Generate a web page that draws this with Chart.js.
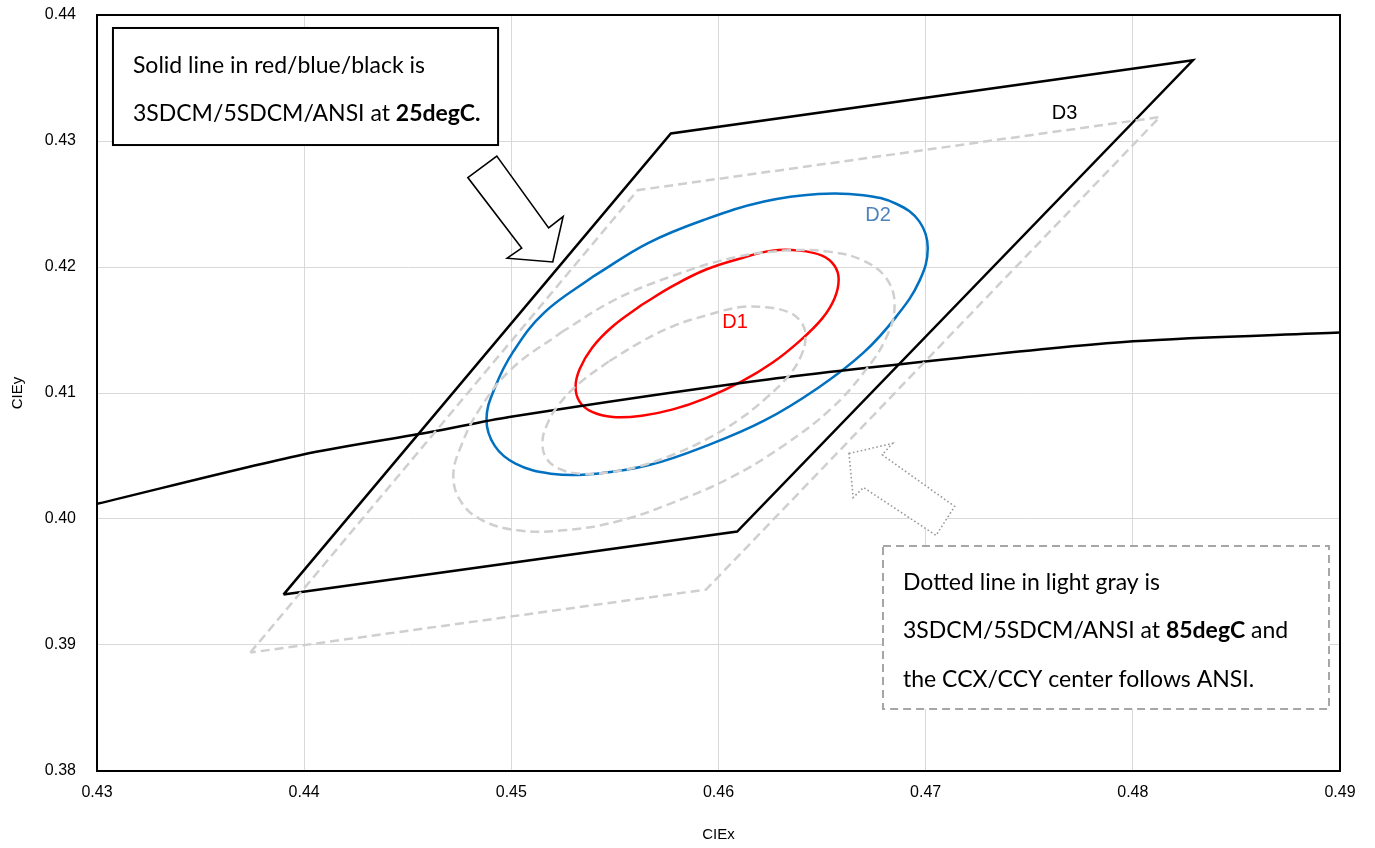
<!DOCTYPE html>
<html>
<head>
<meta charset="utf-8">
<script src="https://cdn.jsdelivr.net/npm/chart.js@4.4.1/dist/chart.umd.min.js"></script>
<style>
  html, body { margin: 0; padding: 0; background: #ffffff; }
  #wrap { width: 1375px; height: 848px; position: relative; }
</style>
</head>
<body>
<div id="wrap"><canvas id="c"></canvas></div>
<script>
// ---- axis ticks ----
const xTickValues = [0.43, 0.44, 0.45, 0.46, 0.47, 0.48, 0.49];
const yTickValues = [0.38, 0.39, 0.40, 0.41, 0.42, 0.43, 0.44];

// ---- Planckian locus (black) ----
const locusX = [0.4300, 0.4399, 0.4461, 0.4499, 0.4620, 0.4717, 0.4800, 0.4900];
const locusY = [0.4012, 0.4051, 0.4069, 0.4081, 0.4110, 0.4128, 0.4141, 0.4148];

// ---- ANSI quadrangle (D3) at 25degC, solid black ----
const ansi25X = [0.4390, 0.4577, 0.4829, 0.4609, 0.4390];
const ansi25Y = [0.3940, 0.4306, 0.4364, 0.3990, 0.3940];

// ---- ANSI quadrangle at 85degC, dashed gray ----
const ansi85X = [0.4374, 0.4561, 0.4813, 0.4594, 0.4374];
const ansi85Y = [0.3894, 0.4261, 0.4319, 0.3944, 0.3894];

// ---- 3SDCM ellipse (D1) at 25degC, red ----
const sdcm3X25 = [0.4563,0.4549,0.4539,0.4533,0.4531,0.4533,0.4539,0.4549,0.4563,0.4578,0.4594,0.4611,0.4626,0.4639,0.4650,0.4656,0.4658,0.4656,0.4650,0.4639,0.4626,0.4611,0.4594,0.4578,0.4563];
const sdcm3Y25 = [0.4170,0.4153,0.4136,0.4119,0.4105,0.4093,0.4085,0.4081,0.4082,0.4087,0.4096,0.4109,0.4124,0.4141,0.4159,0.4175,0.4190,0.4201,0.4209,0.4213,0.4213,0.4207,0.4198,0.4185,0.4170];

// ---- 5SDCM ellipse (D2) at 25degC, blue ----
const sdcm5X25 = [0.4540,0.4566,0.4594,0.4622,0.4648,0.4670,0.4686,0.4697,0.4701,0.4697,0.4686,0.4670,0.4648,0.4622,0.4594,0.4567,0.4541,0.4519,0.4502,0.4492,0.4488,0.4492,0.4501,0.4516,0.4540];
const sdcm5Y25 = [0.4193,0.4219,0.4238,0.4252,0.4258,0.4257,0.4250,0.4236,0.4215,0.4189,0.4161,0.4132,0.4104,0.4078,0.4058,0.4043,0.4036,0.4036,0.4044,0.4058,0.4079,0.4104,0.4133,0.4164,0.4193];

// ---- 3SDCM ellipse at 85degC, dashed gray ----
const sdcm3X85 = [0.4547,0.4533,0.4523,0.4517,0.4515,0.4517,0.4523,0.4533,0.4547,0.4562,0.4578,0.4595,0.4610,0.4623,0.4634,0.4640,0.4642,0.4640,0.4634,0.4623,0.4610,0.4595,0.4578,0.4562,0.4547];
const sdcm3Y85 = [0.4125,0.4108,0.4091,0.4074,0.4060,0.4048,0.4040,0.4036,0.4037,0.4042,0.4051,0.4064,0.4079,0.4096,0.4114,0.4130,0.4145,0.4156,0.4164,0.4168,0.4168,0.4162,0.4153,0.4140,0.4125];

// ---- 5SDCM ellipse at 85degC, dashed gray ----
const sdcm5X85 = [0.4524,0.4550,0.4578,0.4606,0.4632,0.4654,0.4670,0.4681,0.4685,0.4681,0.4670,0.4654,0.4632,0.4606,0.4578,0.4551,0.4525,0.4503,0.4486,0.4476,0.4472,0.4476,0.4485,0.4500,0.4524];
const sdcm5Y85 = [0.4148,0.4174,0.4193,0.4207,0.4213,0.4212,0.4205,0.4191,0.4170,0.4144,0.4116,0.4087,0.4059,0.4033,0.4013,0.3998,0.3991,0.3991,0.3999,0.4013,0.4034,0.4059,0.4088,0.4119,0.4148];

// ---- region labels ----
const regionLabels = ['D1', 'D2', 'D3'];
const regionLabelX = [0.4608, 0.4677, 0.4767];
const regionLabelY = [0.4156, 0.4241, 0.4322];
const regionLabelColors = ['#ff0000', '#4f81bd', '#000000'];

// ---- annotation arrows (data coordinates) ----
const arrow25X = [0.4493, 0.4518, 0.4525, 0.4520, 0.4498, 0.4505, 0.4479];
const arrow25Y = [0.4288, 0.4231, 0.4240, 0.4204, 0.4207, 0.4215, 0.4271];
const arrow85X = [0.4663, 0.4684, 0.4679, 0.4714, 0.4705, 0.4670, 0.4665];
const arrow85Y = [0.4052, 0.4060, 0.4051, 0.4010, 0.3987, 0.4025, 0.4017];

// ---- note boxes (data coordinates of corners) ----
const note25Box = [0.43077, 0.43897, 0.44936, 0.42968];
const note25Lines = [
  [{t: 'Solid line in red/blue/black is', b: false}],
  [{t: '3SDCM/5SDCM/ANSI at ', b: false}, {t: '25degC.', b: true}]
];
const note85Box = [0.46794, 0.39786, 0.48947, 0.38492];
const note85Lines = [
  [{t: 'Dotted line in light gray is', b: false}],
  [{t: '3SDCM/5SDCM/ANSI at ', b: false}, {t: '85degC', b: true}, {t: ' and', b: false}],
  [{t: 'the CCX/CCY center follows ANSI.', b: false}]
];

function pts(xs, ys) { return xs.map((x, i) => ({x: x, y: ys[i]})); }

const GRAY = '#cfcfcf';
const DASH = [9, 5];

const overlayPlugin = {
  id: 'overlay',
  afterDatasetsDraw(chart) {
    const ctx = chart.ctx;
    const xs = chart.scales.x, ys = chart.scales.y;
    const ca = chart.chartArea;
    const px = v => xs.getPixelForValue(v);
    const py = v => ys.getPixelForValue(v);
    ctx.save();
    // plot frame
    ctx.strokeStyle = '#000000';
    ctx.lineWidth = 2;
    ctx.setLineDash([]);
    ctx.strokeRect(ca.left, ca.top, ca.right - ca.left, ca.bottom - ca.top);

    // region labels
    ctx.font = '20px "Liberation Sans", Arial, sans-serif';
    ctx.textAlign = 'center';
    ctx.textBaseline = 'middle';
    regionLabels.forEach((l, i) => {
      ctx.fillStyle = regionLabelColors[i];
      ctx.fillText(l, px(regionLabelX[i]), py(regionLabelY[i]));
    });

    // arrows
    function poly(X, Y) {
      ctx.beginPath();
      X.forEach((x, i) => { if (i === 0) ctx.moveTo(px(x), py(Y[i])); else ctx.lineTo(px(x), py(Y[i])); });
      ctx.closePath();
    }
    poly(arrow25X, arrow25Y);
    ctx.fillStyle = '#ffffff'; ctx.fill();
    ctx.strokeStyle = '#000000'; ctx.lineWidth = 1.6; ctx.setLineDash([]); ctx.stroke();
    poly(arrow85X, arrow85Y);
    ctx.fillStyle = '#ffffff'; ctx.fill();
    ctx.strokeStyle = '#9a9a9a'; ctx.lineWidth = 1.6; ctx.setLineDash([1.6, 2.4]); ctx.stroke();

    // note boxes
    function box(b, lines, dashed, lineGap, firstBase) {
      const x0 = px(b[0]), y0 = py(b[1]), x1 = px(b[2]), y1 = py(b[3]);
      ctx.setLineDash([]);
      ctx.fillStyle = '#ffffff';
      ctx.fillRect(x0, y0, x1 - x0, y1 - y0);
      if (dashed) { ctx.strokeStyle = '#a6a6a6'; ctx.setLineDash([8, 5]); ctx.lineWidth = 2; }
      else { ctx.strokeStyle = '#000000'; ctx.setLineDash([]); ctx.lineWidth = 2; }
      ctx.strokeRect(x0, y0, x1 - x0, y1 - y0);
      ctx.setLineDash([]);
      ctx.fillStyle = '#000000';
      ctx.textAlign = 'left';
      ctx.textBaseline = 'alphabetic';
      lines.forEach((segs, li) => {
        let x = x0 + 20;
        const y = y0 + firstBase + li * lineGap;
        segs.forEach(s => {
          ctx.font = (s.b ? 'bold ' : '') + '23px Lato, "Open Sans", sans-serif';
          ctx.fillText(s.t, x, y);
          x += ctx.measureText(s.t).width;
        });
      });
    }
    box(note25Box, note25Lines, false, 48, 45);
    box(note85Box, note85Lines, true, 48.5, 44);
    ctx.restore();
  }
};

const lineDs = (label, data, color, dashed, tension, width) => ({
  label: label,
  data: data,
  showLine: true,
  borderColor: color,
  backgroundColor: color,
  borderWidth: width || 2.5,
  borderDash: dashed ? DASH : [],
  pointRadius: 0,
  pointHoverRadius: 0,
  tension: tension,
  fill: false
});

new Chart(document.getElementById('c'), {
  type: 'scatter',
  data: {
    datasets: [
      lineDs('ANSI 85degC', pts(ansi85X, ansi85Y), GRAY, true, 0),
      lineDs('5SDCM 85degC', pts(sdcm5X85, sdcm5Y85), GRAY, true, 0.4),
      lineDs('3SDCM 85degC', pts(sdcm3X85, sdcm3Y85), GRAY, true, 0.4),
      lineDs('ANSI 25degC', pts(ansi25X, ansi25Y), '#000000', false, 0),
      lineDs('Locus', pts(locusX, locusY), '#000000', false, 0.3),
      lineDs('5SDCM 25degC', pts(sdcm5X25, sdcm5Y25), '#0070c0', false, 0.4),
      lineDs('3SDCM 25degC', pts(sdcm3X25, sdcm3Y25), '#ff0000', false, 0.4)
    ]
  },
  options: {
    responsive: true,
    maintainAspectRatio: false,
    animation: false,
    events: [],
    layout: { padding: { top: 15, right: 35, left: 0, bottom: 0 } },
    plugins: { legend: { display: false }, tooltip: { enabled: false } },
    scales: {
      x: {
        type: 'linear', min: 0.43, max: 0.49,
        afterBuildTicks: s => { s.ticks = xTickValues.map(v => ({value: v})); },
        afterFit: s => { s.height = 77; s.paddingLeft = 0; s.paddingRight = 0; },
        grid: { color: '#d9d9d9', lineWidth: 1, drawTicks: false },
        border: { display: true, color: '#000000', width: 2 },
        ticks: { padding: 12, color: '#000000', font: { family: '"Liberation Sans", Arial, sans-serif', size: 16 },
                 callback: v => Number(v).toFixed(2), maxRotation: 0 },
        title: { display: true, text: 'CIEx', color: '#000000', padding: { top: 0, bottom: 4 },
                 font: { family: '"Liberation Sans", Arial, sans-serif', size: 15 } }
      },
      y: {
        type: 'linear', min: 0.38, max: 0.44,
        afterBuildTicks: s => { s.ticks = yTickValues.map(v => ({value: v})); },
        afterFit: s => { s.width = 97; s.paddingTop = 0; s.paddingBottom = 0; },
        grid: { color: '#d9d9d9', lineWidth: 1, drawTicks: false },
        border: { display: true, color: '#000000', width: 2 },
        ticks: { padding: 21, color: '#000000', font: { family: '"Liberation Sans", Arial, sans-serif', size: 16 },
                 callback: v => Number(v).toFixed(2) },
        title: { display: true, text: 'CIEy', color: '#000000', padding: { top: 9, bottom: 0 },
                 font: { family: '"Liberation Sans", Arial, sans-serif', size: 15 } }
      }
    }
  },
  plugins: [overlayPlugin]
});
</script>
</body>
</html>
